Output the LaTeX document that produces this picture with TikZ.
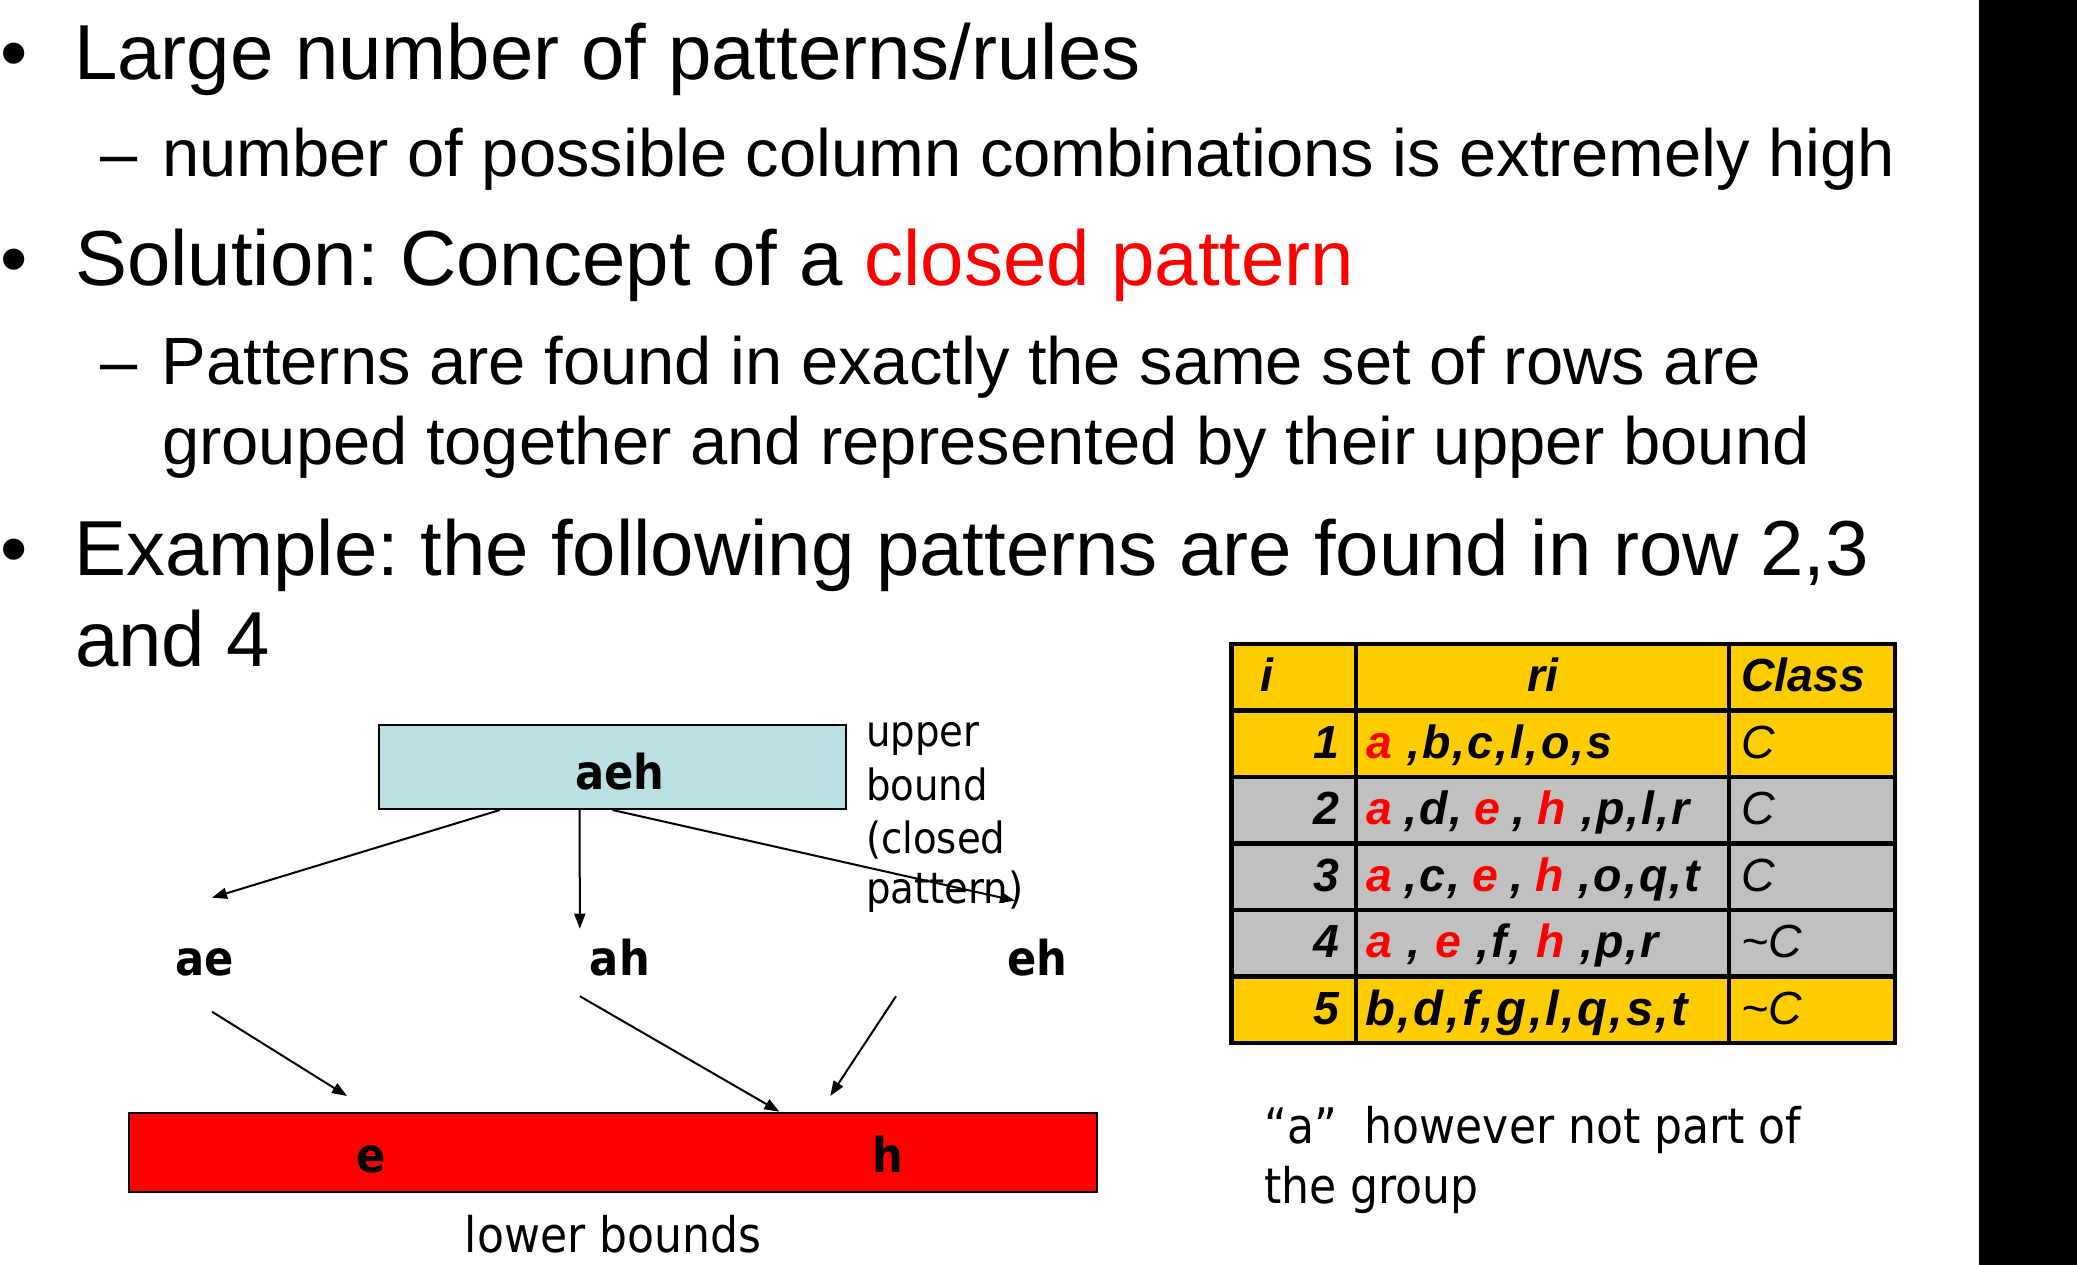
\documentclass[tikz,border=0pt]{standalone}
\usepackage{fontspec}
\setmainfont{Liberation Sans}
\newfontfamily\tah{DejaVu Sans Condensed}
\usetikzlibrary{arrows.meta,calc}
\definecolor{ublue}{RGB}{187,224,227}
\definecolor{tyellow}{RGB}{255,204,0}
\definecolor{tgray}{RGB}{192,192,192}
\definecolor{pred}{RGB}{255,0,0}
\newcommand\redl[1]{\textcolor{pred}{#1}}
\frenchspacing
\tikzset{
  big/.style={font=\fontsize{78}{94}\selectfont, inner sep=0pt, anchor=base west},
  subl/.style={font=\fontsize{66.9}{80}\selectfont, inner sep=0pt, anchor=base west},
  lbl/.style={font=\tah\bfseries\fontsize{48}{58}\selectfont, inner sep=0pt, anchor=base},
  note/.style={font=\tah\fontsize{49}{60}\selectfont, inner sep=0pt, anchor=base west},
  ubnote/.style={font=\tah\fontsize{43}{52}\selectfont, inner sep=0pt, anchor=base west},
  tb/.style={font=\fontsize{46.5}{56}\selectfont\bfseries\itshape, inner sep=0pt},
  trow/.style={font=\fontsize{46.5}{56}\selectfont\bfseries\itshape\addfontfeatures{LetterSpace=4.6}, inner sep=0pt, anchor=base west},
  trowb/.style={font=\fontsize{49}{60}\selectfont\bfseries\itshape\addfontfeatures{LetterSpace=5.0}, inner sep=0pt, anchor=base west},
  tc/.style={font=\fontsize{46.5}{56}\selectfont\itshape, inner sep=0pt, anchor=base west},
  arr/.style={-{Triangle[length=15pt,width=11pt]}, line width=2pt},
  grid/.style={line width=4.5pt, line cap=rect},
}
\begin{document}
\begin{tikzpicture}[x=1pt,y=-1pt]
\useasboundingbox (0,0) rectangle (2077,1265);
\fill[white] (0,0) rectangle (2077,1265);
\fill[black] (1979,0) rectangle (2077,1265);

% ---- bullet text ----
\node[big] (b1) at (0,79.3) {•};
\node[big] (t1) at (74,79.3) {Large number of patterns/rules};
\node[subl] (d1) at (100,176.7) {–};
\node[subl] (t2) at (162,176.7) {number of possible column combinations is extremely high};
\node[big] (b2) at (0,286) {•};
\node[big] (t3) at (75,286) {Solution: Concept of a \redl{closed pattern}};
\node[subl] (d2) at (100,384) {–};
\node[subl] (t4) at (161.5,384) {Patterns are found in exactly the same set of rows are};
\node[subl] (t5) at (162,464) {grouped together and represented by their upper bound};
\node[big] (b3) at (0,575) {•};
\node[big] (t6) at (74,575) {Example: the following patterns are found in row 2,3};
\node[big] (t7) at (75,666.7) {and 4};

% ---- lattice diagram ----
\node[draw, line width=2pt, fill=ublue, minimum width=467pt, minimum height=84pt,
      inner sep=0pt] (aeh) at (612.5,767) {};
\node[lbl] (aehl) at ($(aeh.center)+(7.3,22.4)$) {aeh};
\node[ubnote] (ub1) at (866,746.7) {upper};
\node[ubnote] (ub2) at (866,800) {bound};
\node[ubnote] (ub3) at (866,853) {(closed};
\node[ubnote] (ub4) at (866,903) {pattern)};

\node[lbl] (ae) at (205,975.7) {ae};
\node[lbl] (ah) at (619.8,975.7) {ah};
\node[lbl] (eh) at (1037.5,975.7) {eh};

\node[draw, line width=2pt, fill=pred, minimum width=968pt, minimum height=79.5pt,
      inner sep=0pt] (lb) at (612.6,1152.4) {};
\node[lbl] (e) at (371,1172) {e};
\node[lbl] (h) at (887.6,1172) {h};
\node[font=\tah\fontsize{49}{60}\selectfont, inner sep=0pt, anchor=base] (low) at (613,1252) {lower bounds};

\draw[arr] ($(aeh.south west)!.26!(aeh.south east)$) -- ($(ae.base)+(7,-78)$);
\draw[arr] ($(aeh.south west)!.43!(aeh.south east)$) -- ($(ah.base)+(-40,-47)$);
\draw[arr] (aeh.south) -- ($(eh.base)+(-22.5,-75)$);
\draw[arr] ($(ae.base)+(7,36)$) -- ($(e.base)+(-24,-76)$);
\draw[arr] ($(ah.base)+(-40,20.5)$) -- ($(lb.north west)!.672!(lb.north east)$);
\draw[arr] ($(eh.base)+(-141.5,20.5)$) -- ($(h.base)+(-57.4,-76)$);

% ---- table ----
\fill[tyellow] (1231.5,644) rectangle (1895,777);
\fill[tgray] (1231.5,777) rectangle (1895,976.5);
\fill[tyellow] (1231.5,976.5) rectangle (1895,1043);
\draw[grid] (1231.5,644) rectangle (1895,1043);
\foreach \xx in {1356,1729} \draw[grid] (\xx,644) -- (\xx,1043);
\foreach \yy in {710.5,777,843.5,910,976.5} \draw[grid] (1231.5,\yy) -- (1895,\yy);

\node[tb, anchor=base west] (hi) at (1260,691.7) {i};
\node[tb, anchor=base] (hri) at (1542.5,691.7) {ri};
\node[tb, anchor=base west] (hcl) at (1741,691.7) {Class};

\node[tb, anchor=base east] (n1) at (1340,758.3) {1};
\node[tb, anchor=base east] (n2) at (1340,824.8) {2};
\node[tb, anchor=base east] (n3) at (1340,891.3) {3};
\node[tb, anchor=base east] (n4) at (1340,957.8) {4};
\node[tb, anchor=base east] (n5) at (1340,1024.3) {5};

\node[trow] (r1) at (1366,758.3) {\redl{a} ,b,c,l,o,s};
\node[trow] (r2) at (1366,824.8) {\redl{a}\hspace{-3pt} ,d,\hspace{-3pt} \redl{e}\hspace{-3pt} ,\hspace{-3pt} \redl{h} ,p,l,r};
\node[trow] (r3) at (1366,891.3) {\redl{a}\hspace{-3pt} ,c,\hspace{-3pt} \redl{e}\hspace{-3pt} ,\hspace{-3pt} \redl{h} ,o,q,t};
\node[trow] (r4) at (1366,957.8) {\redl{a} , \redl{e} ,f, \redl{h} ,p,r};
\node[trowb] (r5) at (1365,1025.5) {b,d,f,g,l,q,s,t};

\node[tc] (c1) at (1741,758.3) {C};
\node[tc] (c2) at (1741,824.8) {C};
\node[tc] (c3) at (1741,891.3) {C};
\node[tc] (c4) at (1741,957.8) {\textasciitilde C};
\node[tc] (c5) at (1741,1024.3) {\textasciitilde C};

\node[note] (nt1) at (1264,1143.3) {“a”\ \ however not part of};
\node[note] (nt2) at (1264,1203.3) {the group};
\end{tikzpicture}
\end{document}
